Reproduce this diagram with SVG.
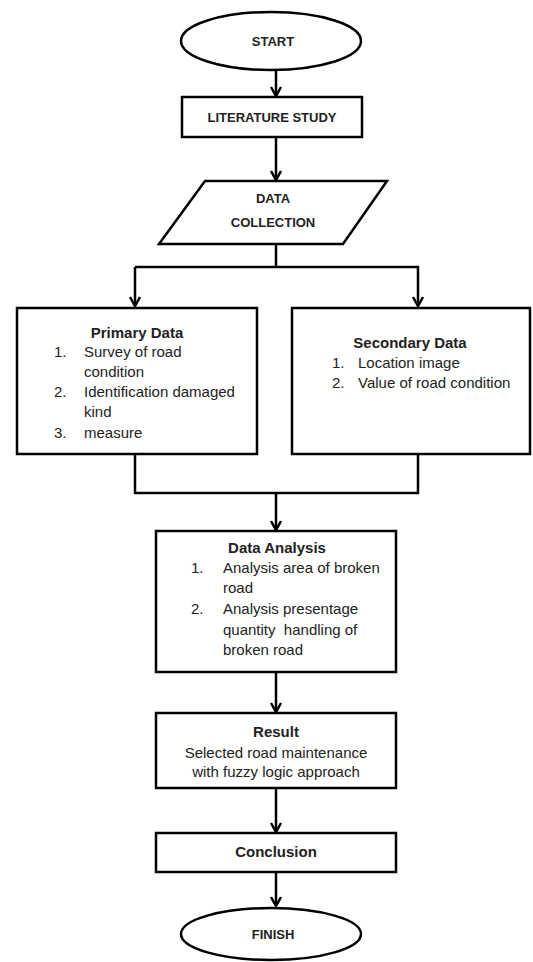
<svg xmlns="http://www.w3.org/2000/svg" width="533" height="962" viewBox="0 0 533 962">
<style>
.shape{fill:#fff;stroke:#000;stroke-width:2.5}
.conn{fill:none;stroke:#000;stroke-width:2.5}
text{font-family:"Liberation Sans",Arial,sans-serif;fill:#222}
.cap{font-size:13px;font-weight:bold;text-anchor:middle}
.hd{font-size:15px;font-weight:bold;text-anchor:middle}
.tx{font-size:15px}
.tc{font-size:15px;text-anchor:middle}
</style>
<defs>
<marker id="arr" viewBox="0 0 12 12" refX="10" refY="6" markerWidth="12" markerHeight="12" markerUnits="userSpaceOnUse" orient="auto">
<path d="M1,1 L10,6 L1,11" fill="none" stroke="#000" stroke-width="2.5"/>
</marker>
</defs>
<rect width="533" height="962" fill="#fff"/>
<g id="connectors">
<line class="conn" x1="276" y1="70" x2="276" y2="96" marker-end="url(#arr)"/>
<line class="conn" x1="276" y1="137" x2="276" y2="180" marker-end="url(#arr)"/>
<polyline class="conn" points="276,244 276,267"/>
<polyline class="conn" points="135,267 418,267 418,306" marker-end="url(#arr)"/>
<line class="conn" x1="135" y1="267" x2="135" y2="306" marker-end="url(#arr)"/>
<polyline class="conn" points="135,454 135,493 418,493 418,454"/>
<line class="conn" x1="276" y1="493" x2="276" y2="530" marker-end="url(#arr)"/>
<line class="conn" x1="276" y1="672" x2="276" y2="712" marker-end="url(#arr)"/>
<line class="conn" x1="276" y1="788" x2="276" y2="832" marker-end="url(#arr)"/>
<line class="conn" x1="276" y1="872" x2="276" y2="906" marker-end="url(#arr)"/>
</g>
<g id="start">
<ellipse class="shape" cx="271" cy="41" rx="90" ry="29"/>
<text class="cap" x="273" y="46">START</text>
</g>
<g id="literature">
<rect class="shape" x="182" y="97" width="180" height="40"/>
<text class="cap" x="272" y="122">LITERATURE STUDY</text>
</g>
<g id="collection">
<polygon class="shape" points="205,181 387,181 343,244 159,244"/>
<text class="cap" x="273" y="203">DATA</text>
<text class="cap" x="273" y="227">COLLECTION</text>
</g>
<g id="primary">
<rect class="shape" x="17" y="308" width="240" height="146"/>
<text class="hd" x="137" y="338">Primary Data</text>
<text class="tx" x="54" y="357">1.</text>
<text class="tx" x="84" y="357">Survey of road</text>
<text class="tx" x="84" y="377">condition</text>
<text class="tx" x="54" y="397">2.</text>
<text class="tx" x="84" y="397">Identification damaged</text>
<text class="tx" x="84" y="417">kind</text>
<text class="tx" x="54" y="438">3.</text>
<text class="tx" x="84" y="438">measure</text>
</g>
<g id="secondary">
<rect class="shape" x="292" y="308" width="238" height="146"/>
<text class="hd" x="410" y="348">Secondary Data</text>
<text class="tx" x="332" y="368">1.</text>
<text class="tx" x="358" y="368">Location image</text>
<text class="tx" x="332" y="388">2.</text>
<text class="tx" x="358" y="388">Value of road condition</text>
</g>
<g id="analysis">
<rect class="shape" x="156" y="531" width="240" height="141"/>
<text class="hd" x="277" y="553">Data Analysis</text>
<text class="tx" x="191" y="573">1.</text>
<text class="tx" x="223" y="573">Analysis area of broken</text>
<text class="tx" x="223" y="593">road</text>
<text class="tx" x="191" y="614">2.</text>
<text class="tx" x="223" y="614">Analysis presentage</text>
<text class="tx" x="223" y="635">quantity&#160; handling of</text>
<text class="tx" x="223" y="655">broken road</text>
</g>
<g id="result">
<rect class="shape" x="156" y="713" width="240" height="75"/>
<text class="hd" x="276" y="737">Result</text>
<text class="tc" x="276" y="758">Selected road maintenance</text>
<text class="tc" x="276" y="777">with fuzzy logic approach</text>
</g>
<g id="conclusion">
<rect class="shape" x="156" y="833" width="240" height="39"/>
<text class="hd" x="276" y="857">Conclusion</text>
</g>
<g id="finish">
<ellipse class="shape" cx="271" cy="934" rx="90" ry="26"/>
<text class="cap" x="273" y="939">FINISH</text>
</g>
</svg>
